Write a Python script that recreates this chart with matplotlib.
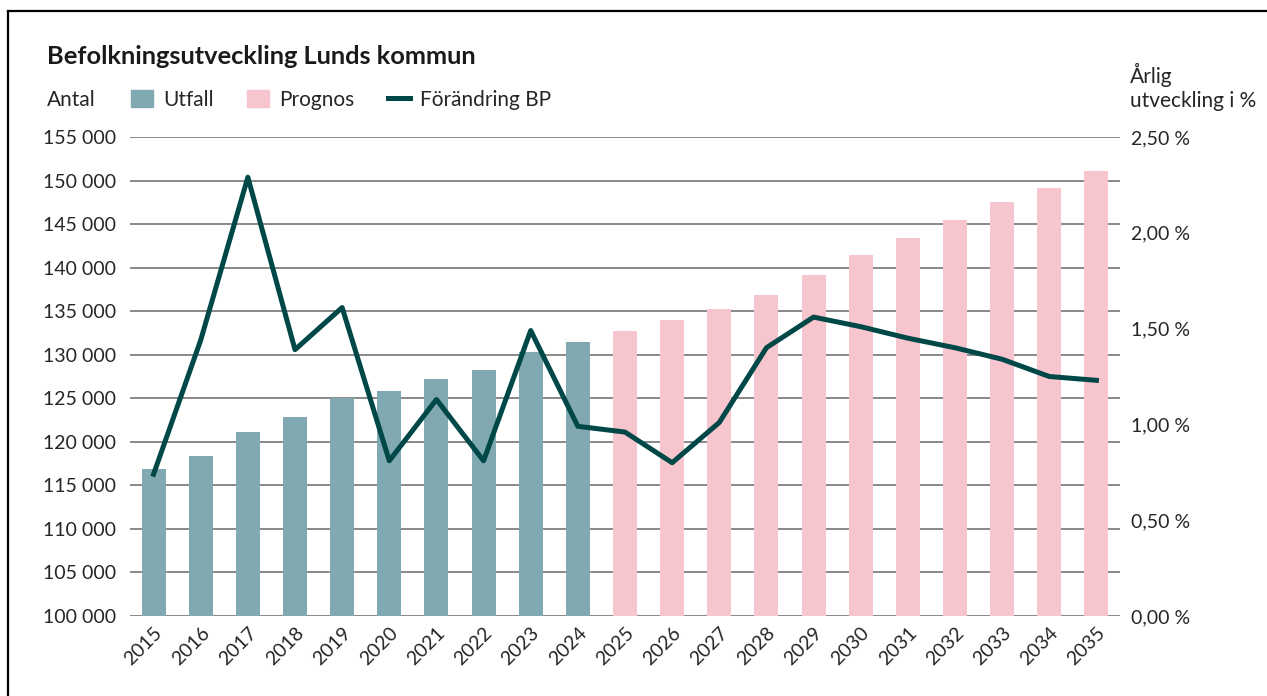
import numpy as np
import matplotlib
matplotlib.use("Agg")
import matplotlib.pyplot as plt
from matplotlib.lines import Line2D
from matplotlib.patches import Patch

plt.rcParams['font.family'] = ['Lato', 'DejaVu Sans']

years = [str(y) for y in range(2015, 2036)]
utfall = [116900, 118400, 121100, 122900, 125000, 125800, 127200, 128300, 130300, 131500]
prognos = [132700, 134000, 135300, 136900, 139100, 141400, 143400, 145500, 147500, 149100, 151100]
forandring = [0.74, 1.44, 2.29, 1.39, 1.61, 0.81, 1.13, 0.81, 1.49, 0.99,
              0.96, 0.80, 1.01, 1.40, 1.56, 1.51, 1.45, 1.40, 1.34, 1.25, 1.23]

c_utfall = '#80a9b1'
c_prognos = '#f7c5cd'
c_line = '#004848'
c_text = '#262626'
fs = 15
fs_tick = 14

fig = plt.figure(figsize=(12.67, 6.96), dpi=100)
ax = fig.add_axes([130/1267, 1-616/696, (1120-130)/1267, (616-137)/696])

x = np.arange(len(years))
n_u = len(utfall)
ax.bar(x[:n_u], np.array(utfall) - 100000, bottom=100000, width=0.51, color=c_utfall, zorder=2)
ax.bar(x[n_u:], np.array(prognos) - 100000, bottom=100000, width=0.51, color=c_prognos, zorder=2)
ax.set_ylim(100000, 155000)
ax.set_xlim(-0.5, len(years) - 0.5)
yt = np.arange(100000, 155001, 5000)
ax.set_yticks(yt)
ax.set_yticklabels([f"{v:,}".replace(",", " ") for v in yt])
ax.grid(axis='y', color='#7f7f7f', linewidth=1.3, zorder=0)
ax.set_axisbelow(True)
ax.set_xticks(x)
ax.set_xticklabels(years, rotation=45, ha='right', rotation_mode='anchor')
ax.tick_params(axis='y', length=0, pad=10, labelsize=fs_tick, labelcolor=c_text)
ax.tick_params(axis='x', length=0, pad=6, labelsize=fs_tick, labelcolor=c_text)
for s in ax.spines.values():
    s.set_visible(False)

ax2 = ax.twinx()
ax2.plot(x, forandring, color=c_line, linewidth=3.6, zorder=3)
ax2.set_ylim(0, 2.5)
rt = np.arange(0, 2.51, 0.5)
ax2.set_yticks(rt)
ax2.set_yticklabels([f"{v:.2f} %".replace(".", ",") for v in rt])
ax2.tick_params(axis='y', length=0, pad=8, labelsize=fs_tick, labelcolor=c_text)
for s in ax2.spines.values():
    s.set_visible(False)

fig.text(47/1267, 1-57/696, "Befolkningsutveckling Lunds kommun", fontsize=18.3,
         fontweight='bold', color='#1a1a1a', va='center', ha='left')
fig.text(47/1267, 1-100/696, "Antal", fontsize=fs, color=c_text, va='center', ha='left')
fig.text(1130/1267, 1-87/696, "Årlig\nutveckling i %", fontsize=fs, color=c_text,
         va='center', ha='left', linespacing=1.25)

handles = [Patch(color=c_utfall, label='Utfall'),
           Patch(color=c_prognos, label='Prognos'),
           Line2D([], [], color=c_line, linewidth=3.6, label='Förändring BP')]
leg = fig.legend(handles=handles, ncol=3, frameon=False, loc='center left',
                 bbox_to_anchor=(131/1267, 1-100/696), fontsize=fs,
                 handlelength=1.05, handleheight=0.85, handletextpad=0.5,
                 columnspacing=1.6, borderpad=0, borderaxespad=0)
for t in leg.get_texts():
    t.set_color(c_text)

# border
fig.add_artist(Line2D([8/1267, 8/1267], [0, 1-11/696], color='black', linewidth=1.6))
fig.add_artist(Line2D([8/1267, 1], [1-11/696, 1-11/696], color='black', linewidth=1.6))

fig.savefig("out.png", dpi=100)
